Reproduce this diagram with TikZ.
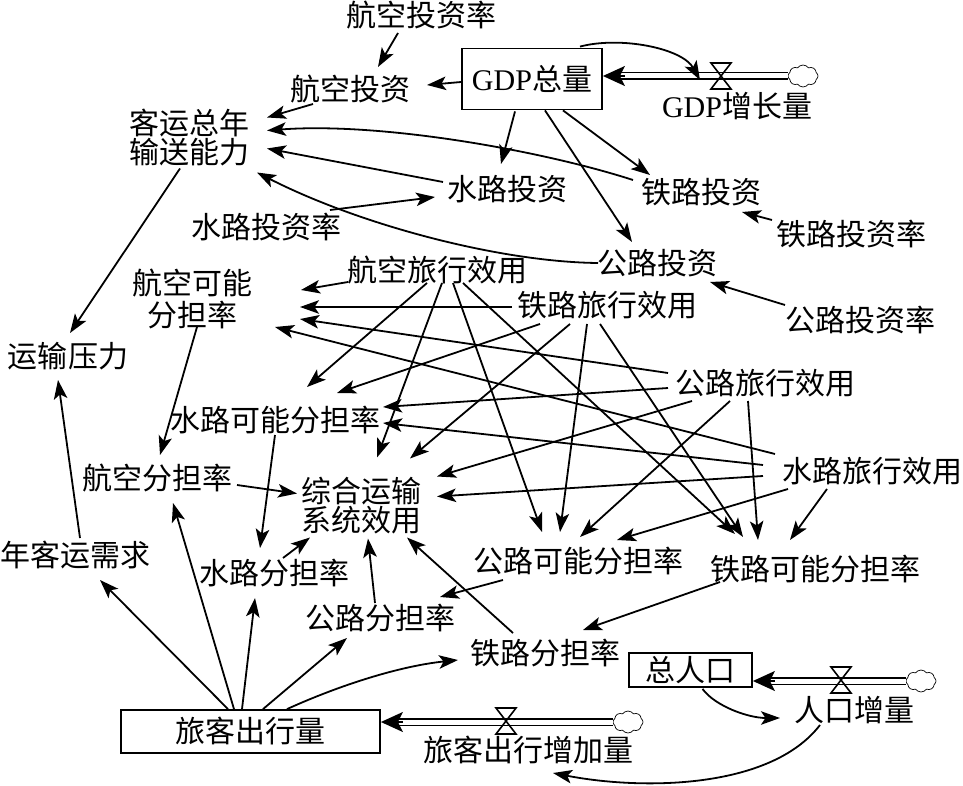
\documentclass[tikz,border=0pt]{standalone}
\usepackage{fontspec}
\setmainfont{Liberation Serif}
\newfontfamily\cjk{Noto Sans CJK SC}
\usetikzlibrary{arrows.meta,calc,shapes.symbols}
\begin{document}
\begin{tikzpicture}[x=1pt,y=-1pt,
  lbl/.style={inner sep=0pt, font=\cjk\fontsize{30}{29}\selectfont, align=center},
  stockbox/.style={lbl, draw, line width=1.8pt},
  arr/.style={line width=1.8pt, -{Stealth[length=19pt,width=13.5pt,inset=4.5pt]}},
  pipe/.style={line width=1.7pt, double distance=5pt},
  pipehead/.style={line width=1.6pt, -{Stealth[length=22pt,width=20pt,inset=5pt]}},
  valve/.style={line width=1.6pt},
  cloudsrc/.style={cloud, cloud puffs=8, cloud puff arc=110, aspect=1.4, draw, line width=0.7pt, minimum width=30pt, minimum height=22pt, inner sep=0pt}]
\useasboundingbox (0,0) rectangle (963,786);

% ---------- nodes ----------
\node[lbl] (hktzl) at (421,15) {航空投资率};
\node[lbl] (hktz) at (350,89) {航空投资};
\node[stockbox, minimum width=140pt, minimum height=61pt] (gdp) at (532,79) {{\rmfamily GDP}总量};
\node[lbl] (gdpzz) at (737,106) {{\rmfamily GDP}增长量};
\coordinate (gdpv) at (721,76);
\node[cloudsrc] (gdpc) at (803,76) {};

\node[lbl] (kyzn) at (189,137.5) {客运总年\\输送能力};
\node[lbl] (sltz) at (507,189) {水路投资};
\node[lbl] (tltz) at (701,192) {铁路投资};
\node[lbl] (sltzl) at (266,227) {水路投资率};
\node[lbl] (tltzl) at (851,234) {铁路投资率};
\node[lbl] (gltz) at (657,263) {公路投资};
\node[lbl] (gltzl) at (860,320) {公路投资率};
\node[lbl, font=\cjk\fontsize{30}{32}\selectfont] (hkkn) at (192,299) {航空可能\\分担率};
\node[lbl] (ysyl) at (68,356) {运输压力};
\node[lbl] (hkly) at (437,270) {航空旅行效用};
\node[lbl] (tlly) at (607,305) {铁路旅行效用};
\node[lbl] (glly) at (765,383) {公路旅行效用};
\node[lbl] (slly) at (872,471) {水路旅行效用};
\node[lbl] (slkn) at (275,420) {水路可能分担率};
\node[lbl] (hkft) at (157,478) {航空分担率};
\node[lbl] (zh) at (361,505.5) {综合运输\\系统效用};
\node[lbl] (slft) at (274,573) {水路分担率};
\node[lbl] (glft) at (380,618) {公路分担率};
\node[lbl] (tlft) at (545,653) {铁路分担率};
\node[lbl] (glkn) at (578,561) {公路可能分担率};
\node[lbl] (tlkn) at (815,569) {铁路可能分担率};
\node[lbl] (nkyxq) at (76,555) {年客运需求};
\node[stockbox, minimum width=123pt, minimum height=34pt] (zrk) at (690.5,670) {总人口};
\node[lbl] (rkzl) at (854,710) {人口增量};
\coordinate (rkv) at (841,680);
\node[cloudsrc] (rkc) at (921,681) {};
\node[stockbox, minimum width=259pt, minimum height=43pt] (lkcx) at (250.5,731.5) {旅客出行量};
\node[lbl] (lkzj) at (528,750) {旅客出行增加量};
\coordinate (lkv) at (506,721);
\node[cloudsrc] (lkc) at (628,722) {};

% ---------- flows (pipes, valves) ----------
\draw[pipe] (gdpc.west) -- ($(gdp.east |- gdpc)+(18,0)$);
\draw[pipehead] ($(gdp.east |- gdpc)+(22,0)$) -- (gdp.east |- gdpc);
\draw[valve] ($(gdpv)+(-10,-13)$) -- ($(gdpv)+(10,-13)$) -- ($(gdpv)+(-10,13)$) -- ($(gdpv)+(10,13)$) -- cycle;

\draw[pipe] (rkc.west) -- ($(zrk.east |- rkc)+(18,0)$);
\draw[pipehead] ($(zrk.east |- rkc)+(22,0)$) -- (zrk.east |- rkc);
\draw[valve] ($(rkv)+(-10,-13)$) -- ($(rkv)+(10,-13)$) -- ($(rkv)+(-10,13)$) -- ($(rkv)+(10,13)$) -- cycle;

\draw[pipe] (lkc.west) -- ($(lkcx.east |- lkc)+(18,0)$);
\draw[pipehead] ($(lkcx.east |- lkc)+(22,0)$) -- (lkcx.east |- lkc);
\draw[valve] ($(lkv)+(-10,-13)$) -- ($(lkv)+(10,-13)$) -- ($(lkv)+(-10,13)$) -- ($(lkv)+(10,13)$) -- cycle;

% ---------- top part ----------
\draw[arr] ($(hktzl)+(-23,18)$) -- ($(hktz)+(28,-22)$);
\draw[arr] ($(gdp.west)+(0,3)$) -- ($(hktz)+(77,-4)$);
\draw[arr] ($(hktz)+(-37,15)$) -- ($(kyzn)+(78,-20)$);
\draw[arr] ($(tltz)+(-68,-12)$) .. controls (540,150) and (380,122) .. ($(kyzn)+(78,-7)$);
\draw[arr] ($(sltz)+(-64,-7)$) -- ($(kyzn)+(78,11)$);
\draw[arr] ($(gltz)+(-59,0)$) .. controls (500,262) and (360,225) .. ($(kyzn)+(68,35)$);
\draw[arr] ($(sltzl)+(64,-17)$) -- ($(sltz)+(-72,8)$);
\draw[arr] ($(gdp.south)+(-17,1)$) -- ($(sltz)+(-6,-25)$);
\draw[arr] ($(gdp.south)+(31,0)$) -- ($(tltz)+(-51,-17)$);
\draw[arr] ($(gdp.south)+(13,0)$) -- ($(gltz)+(-25,-21)$);
\draw[arr] ($(tltzl)+(-79,-14)$) -- ($(tltz)+(41,20)$);
\draw[arr] ($(gltzl)+(-75,-15)$) -- ($(gltz)+(53,19)$);
\draw[arr] ($(gdp.north)+(48,-1)$) .. controls (620,36) and (682,48) .. ($(gdpv)+(-21,4)$);

% ---------- travel utilities ----------
\draw[arr] ($(hkly)+(-89,12)$) -- ($(hkkn)+(109,-9)$);
\draw[arr] ($(hkly)+(-10,13)$) -- ($(slkn)+(32,-33)$);
\draw[arr] ($(hkly)+(5,13)$) -- ($(zh)+(16,-48)$);
\draw[arr] ($(hkly)+(16,13)$) -- ($(glkn)+(-36,-29)$);
\draw[arr] ($(hkly)+(26,13)$) -- ($(tlkn)+(-80,-35)$);

\draw[arr] ($(tlly)+(-95,2)$) -- ($(hkkn)+(108,8)$);
\draw[arr] ($(tlly)+(-67,19)$) -- ($(slkn)+(62,-27)$);
\draw[arr] ($(tlly)+(-37,19)$) -- ($(zh)+(49,-47)$);
\draw[arr] ($(tlly)+(-20,19)$) -- ($(glkn)+(-18,-29)$);
\draw[arr] ($(tlly)+(-7,19)$) -- ($(tlkn)+(-72,-32)$);

\draw[arr] ($(glly)+(-97,-10)$) -- ($(hkkn)+(108,20)$);
\draw[arr] ($(glly)+(-97,5)$) -- ($(slkn)+(108,-13)$);
\draw[arr] ($(glly)+(-73,18)$) -- ($(zh)+(76,-29)$);
\draw[arr] ($(glly)+(-35,18)$) -- ($(glkn)+(2,-24)$);
\draw[arr] ($(glly)+(-17,18)$) -- ($(tlkn)+(-57,-29)$);

\draw[arr] ($(slly)+(-97,-17)$) -- ($(hkkn)+(83,28)$);
\draw[arr] ($(slly)+(-109,-6)$) -- ($(slkn)+(108,3)$);
\draw[arr] ($(slly)+(-109,5)$) -- ($(zh)+(76,-9)$);
\draw[arr] ($(slly)+(-84,18)$) -- ($(glkn)+(39,-21)$);
\draw[arr] ($(slly)+(-45,18)$) -- ($(tlkn)+(-25,-29)$);

% ---------- shares ----------
\draw[arr] ($(kyzn)+(-9,31)$) -- ($(ysyl)+(2,-23)$);
\draw[arr] ($(nkyxq)+(4,-17)$) -- ($(ysyl)+(-10,24)$);
\draw[arr] ($(hkkn)+(5,28)$) -- ($(hkft)+(3,-23)$);
\draw[arr] ($(hkft)+(80,7)$) -- ($(zh)+(-64,-12)$);
\draw[arr] ($(slkn)+(0,15)$) -- ($(slft)+(-14,-25)$);
\draw[arr] ($(slft)+(9,-15)$) -- ($(zh)+(-51,32)$);
\draw[arr] ($(glft)+(-5,-15)$) -- ($(zh)+(7,33)$);
\draw[arr] ($(tlft)+(-32,-20)$) -- ($(zh)+(46,32)$);
\draw[arr] ($(glkn)+(-75,19)$) -- ($(glft)+(60,-21)$);
\draw[arr] ($(tlkn)+(-95,13)$) -- ($(tlft)+(38,-23)$);

% ---------- passenger trips ----------
\draw[arr] ($(lkcx.north)+(-22.5,0)$) -- ($(nkyxq)+(24,25)$);
\draw[arr] ($(lkcx.north)+(-16.5,0)$) -- ($(hkft)+(16,25)$);
\draw[arr] ($(lkcx.north)+(-8.5,0)$) -- ($(slft)+(-19,25)$);
\draw[arr] ($(lkcx.north)+(12.5,0)$) -- ($(glft)+(-33,20)$);
\draw[arr] ($(lkcx.north)+(36.5,0)$) .. controls (340,685) and (400,666) .. ($(tlft)+(-87,7)$);

% ---------- population ----------
\draw[arr] ($(zrk.south)+(12,1)$) .. controls (715,706) and (748,718) .. ($(rkzl)+(-74,8)$);
\draw[arr] ($(rkzl)+(-34,15)$) .. controls (770,790) and (640,790) .. ($(lkzj)+(25,23)$);
\end{tikzpicture}
\end{document}
